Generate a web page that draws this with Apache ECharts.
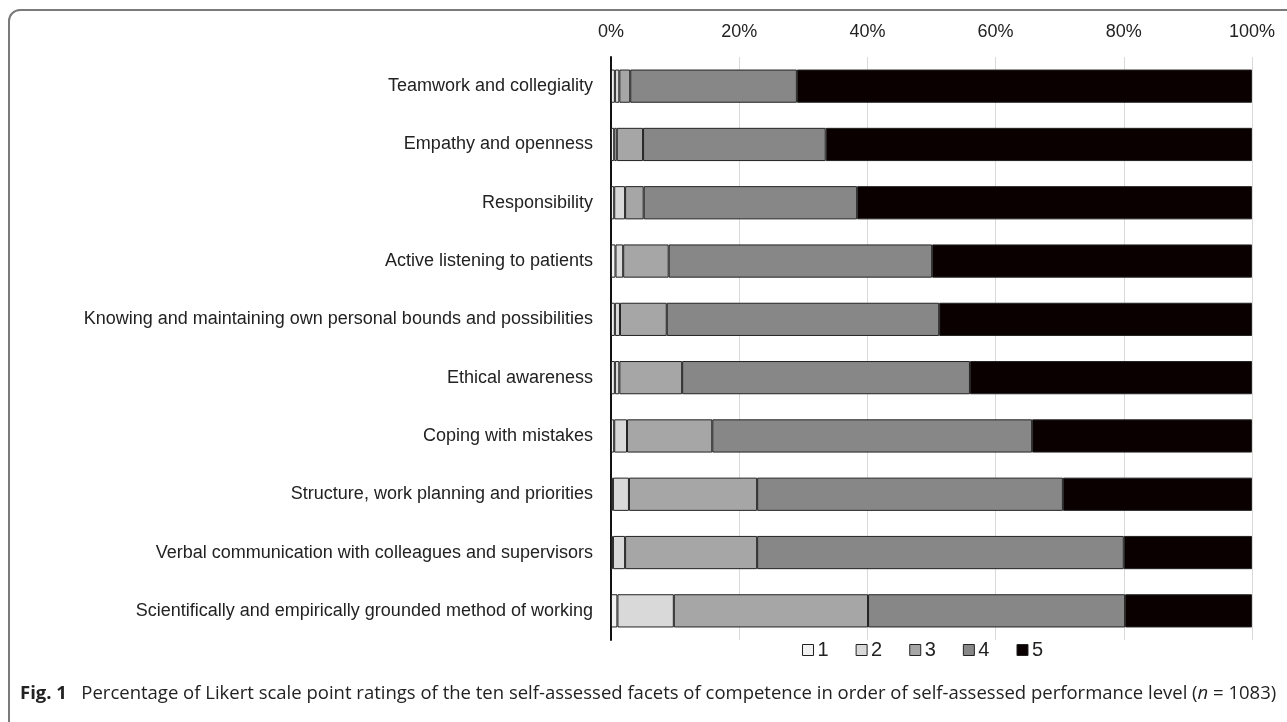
<!DOCTYPE html>
<html>
<head>
<meta charset="utf-8">
<script src="https://cdn.jsdelivr.net/npm/echarts@6/dist/echarts.min.js"></script>
<style>
html,body{margin:0;padding:0;background:#fff;}
#chart{width:1287px;height:722px;}
</style>
</head>
<body>
<div id="chart"></div>
<script>
const categories = [
  "Teamwork and collegiality",
  "Empathy and openness",
  "Responsibility",
  "Active listening to patients",
  "Knowing and maintaining own personal bounds and possibilities",
  "Ethical awareness",
  "Coping with mistakes",
  "Structure, work planning and priorities",
  "Verbal communication with colleagues and supervisors",
  "Scientifically and empirically grounded method of working"
];
const seriesNames = ["1", "2", "3", "4", "5"];
const rating1 = [0.6, 0.5, 0.5, 0.7, 0.6, 0.6, 0.5, 0.3, 0.3, 1.0];
const rating2 = [0.7, 0.4, 1.7, 1.2, 0.8, 0.7, 2.0, 2.5, 1.9, 8.8];
const rating3 = [1.7, 4.1, 2.9, 7.1, 7.3, 9.8, 13.3, 20.0, 20.6, 30.3];
const rating4 = [26.0, 28.5, 33.3, 41.1, 42.5, 44.9, 49.9, 47.7, 57.2, 40.1];
const rating5 = [71.0, 66.5, 61.6, 49.9, 48.8, 44.0, 34.3, 29.5, 20.0, 19.8];
const xTicks = [0, 20, 40, 60, 80, 100];

const colors = ["#f2f2f2", "#d9d9d9", "#a6a6a6", "#878787", "#0a0000"];
const values = [rating1, rating2, rating3, rating4, rating5];

const chart = echarts.init(document.getElementById('chart'), null, {renderer: 'canvas'});
const font = "Liberation Sans, Arial, sans-serif";

const option = {
  animation: false,
  backgroundColor: '#ffffff',
  grid: {left: 611, right: 35, top: 57, bottom: 82, containLabel: false},
  xAxis: {
    type: 'value', position: 'top', min: xTicks[0], max: xTicks[xTicks.length - 1], interval: 20,
    axisLine: {show: false}, axisTick: {show: false},
    axisLabel: {formatter: '{value}%', fontFamily: font, fontSize: 18, color: '#222', margin: 16},
    splitLine: {show: true, lineStyle: {color: '#d9d9d9', width: 1}}
  },
  yAxis: {
    type: 'category', data: categories, inverse: true,
    axisLine: {show: true, lineStyle: {color: '#111', width: 2}},
    axisTick: {show: false},
    axisLabel: {fontFamily: font, fontSize: 18, color: '#222', margin: 18}
  },
  legend: {
    data: seriesNames, top: 635, left: 797, orient: 'horizontal',
    icon: 'rect', itemWidth: 11, itemHeight: 11, itemGap: 27,
    itemStyle: {borderWidth: 1, borderColor: '#222'},
    textStyle: {fontFamily: font, fontSize: 20, color: '#222', padding: [0, 0, 0, -1]}
  },
  series: seriesNames.map((name, i) => ({
    name: name, type: 'bar', stack: 'total', barCategoryGap: '43%',
    data: values[i],
    itemStyle: {color: colors[i], borderColor: '#222', borderWidth: 1},
    emphasis: {disabled: true}
  })),
  graphic: [
    {type: 'rect', shape: {x: 9, y: 10, width: 1400, height: 900, r: [11, 0, 0, 0]},
     style: {fill: 'none', stroke: '#7a7a7a', lineWidth: 2}, silent: true},
    {type: 'text', left: 20, top: 684,
     style: {
       rich: {
         b: {fontFamily: 'Open Sans', fontWeight: 'bold', fontSize: 18.5, fill: '#222'},
         t: {fontFamily: 'Open Sans', fontSize: 18.5, fill: '#222'},
         i: {fontFamily: 'Open Sans', fontStyle: 'italic', fontSize: 18.5, fill: '#222'}
       },
       text: '{b|Fig. 1}{t|   Percentage of Likert scale point ratings of the ten self-assessed facets of competence in order of self-assessed performance level (}{i|n}{t| = 1083)}'
     }
    }
  ]
};
chart.setOption(option);
</script>
</body>
</html>
